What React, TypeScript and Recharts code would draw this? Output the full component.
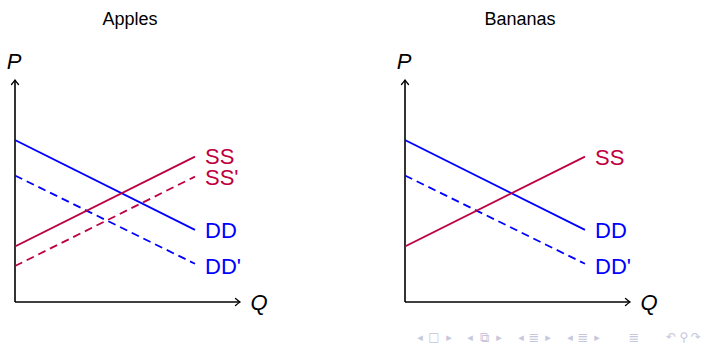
import React from "react";
import { LineChart, Line, XAxis, YAxis, ReferenceLine } from "recharts";

// Quantities at which each curve is drawn (start and end)
const quantities = [0, 8];

// Apples
const appleDemand = [7.3, 3.25];
const appleDemandShift = [5.7, 1.72];
const appleSupply = [2.5, 6.55];
const appleSupplyShift = [1.62, 5.65];

// Bananas
const bananaDemand = [7.3, 3.25];
const bananaDemandShift = [5.7, 1.72];
const bananaSupply = [2.5, 6.55];

const panelTitles = ["Apples", "Bananas"];
const axisLabels = { price: "P", quantity: "Q" };
const axisMax = 10;

const RED = "#BF0040";
const BLUE = "#0000FF";
const FONT = "'Liberation Sans', Arial, sans-serif";

type Series = {
  name: string;
  values: number[];
  color: string;
  dashed: boolean;
  dy: number;
};

const toData = (values: number[]) =>
  quantities.map((q, i) => ({ q, p: values[i] }));

const applesSeries: Series[] = [
  { name: "DD", values: appleDemand, color: BLUE, dashed: false, dy: 1 },
  { name: "DD'", values: appleDemandShift, color: BLUE, dashed: true, dy: 3 },
  { name: "SS", values: appleSupply, color: RED, dashed: false, dy: 0 },
  { name: "SS'", values: appleSupplyShift, color: RED, dashed: true, dy: 1 },
];

const bananasSeries: Series[] = [
  { name: "DD", values: bananaDemand, color: BLUE, dashed: false, dy: 1 },
  { name: "DD'", values: bananaDemandShift, color: BLUE, dashed: true, dy: 3 },
  { name: "SS", values: bananaSupply, color: RED, dashed: false, dy: 1 },
];

const ArrowAxis = (props: any) => {
  const { x1, y1, x2, y2, label, vertical } = props;
  const tipX = x2;
  const tipY = y2;
  let head = "";
  if (vertical) {
    head = `M ${tipX - 3.5} ${tipY + 4.5} Q ${tipX - 1} ${tipY + 1.5} ${tipX} ${tipY} Q ${tipX + 1} ${tipY + 1.5} ${tipX + 3.5} ${tipY + 4.5}`;
  } else {
    head = `M ${tipX - 4.5} ${tipY - 3.5} Q ${tipX - 1.5} ${tipY - 1} ${tipX} ${tipY} Q ${tipX - 1.5} ${tipY + 1} ${tipX - 4.5} ${tipY + 3.5}`;
  }
  return (
    <g>
      <line x1={x1} y1={y1} x2={x2} y2={y2} stroke="#000" strokeWidth={1.6} />
      <path d={head} fill="none" stroke="#000" strokeWidth={1.3} strokeLinecap="round" />
      {vertical ? (
        <text
          x={x1 - 1}
          y={tipY - 11}
          textAnchor="middle"
          fontSize={22}
          fontStyle="italic"
          fontFamily={FONT}
          fill="#000"
        >
          {label}
        </text>
      ) : (
        <text
          x={tipX + 19}
          y={tipY + 8}
          textAnchor="middle"
          fontSize={22}
          fontStyle="italic"
          fontFamily={FONT}
          fill="#000"
        >
          {label}
        </text>
      )}
    </g>
  );
};

const endLabel = (s: Series) => (props: any) => {
  const { x, y, index } = props;
  if (index !== quantities.length - 1) return null;
  return (
    <text
      x={x + 10}
      y={y + s.dy}
      dominantBaseline="central"
      fontSize={22}
      fontFamily={FONT}
      fill={s.color}
    >
      {s.name}
    </text>
  );
};

const Panel = ({ series, left, title }: { series: Series[]; left: number; title: string }) => (
  <div style={{ position: "absolute", left, top: 0, width: 300, height: 344 }}>
    <div
      style={{
        position: "absolute",
        left: 15,
        width: 230,
        top: 8,
        textAlign: "center",
        fontFamily: FONT,
        fontSize: 18,
        color: "#000",
        lineHeight: "22px",
      }}
    >
      {title}
    </div>
    <LineChart
      width={300}
      height={344}
      margin={{ top: 80, left: 15, right: 60, bottom: 42 }}
      style={{ overflow: "visible" }}
    >
      <XAxis dataKey="q" type="number" domain={[0, axisMax]} hide allowDataOverflow />
      <YAxis type="number" domain={[0, axisMax]} hide allowDataOverflow />
      <ReferenceLine
        segment={[{ x: 0, y: 0 }, { x: 0, y: axisMax }]}
        ifOverflow="visible"
        shape={(p: any) => <ArrowAxis {...p} vertical label={axisLabels.price} />}
      />
      <ReferenceLine
        segment={[{ x: 0, y: 0 }, { x: axisMax, y: 0 }]}
        ifOverflow="visible"
        shape={(p: any) => <ArrowAxis {...p} label={axisLabels.quantity} />}
      />
      {series.map((s) => (
        <Line
          key={s.name}
          data={toData(s.values)}
          dataKey="p"
          stroke={s.color}
          strokeWidth={1.8}
          strokeDasharray={s.dashed ? "8 5" : undefined}
          dot={false}
          activeDot={false}
          isAnimationActive={false}
          label={endLabel(s)}
        />
      ))}
    </LineChart>
  </div>
);

const navSymbols = [
  { t: "◂", x: 420, s: 11 },
  { t: "□", x: 434, s: 12 },
  { t: "▸", x: 449, s: 11 },
  { t: "◂", x: 470, s: 11 },
  { t: "⧉", x: 484, s: 13 },
  { t: "▸", x: 499, s: 11 },
  { t: "◂", x: 521, s: 11 },
  { t: "≣", x: 534, s: 13 },
  { t: "▸", x: 548, s: 11 },
  { t: "◂", x: 570, s: 11 },
  { t: "≣", x: 583, s: 13 },
  { t: "▸", x: 597, s: 11 },
  { t: "≣", x: 634, s: 13 },
  { t: "↶", x: 671, s: 12 },
  { t: "⚲", x: 684, s: 12 },
  { t: "↷", x: 696, s: 12 },
];

export default function App() {
  return (
    <div style={{ position: "absolute", left: 0, top: 0, width: 704, height: 344, background: "#fff", overflow: "hidden" }}>
      <Panel series={applesSeries} left={0} title={panelTitles[0]} />
      <Panel series={bananasSeries} left={390} title={panelTitles[1]} />
      <svg width={704} height={344} style={{ position: "absolute", left: 0, top: 0, pointerEvents: "none" }}>
        {navSymbols.map((n, i) => (
          <text
            key={i}
            x={n.x}
            y={337}
            textAnchor="middle"
            dominantBaseline="central"
            fontSize={n.s}
            fontFamily="'DejaVu Sans', sans-serif"
            fill="#c6c6dc"
          >
            {n.t}
          </text>
        ))}
      </svg>
    </div>
  );
}
